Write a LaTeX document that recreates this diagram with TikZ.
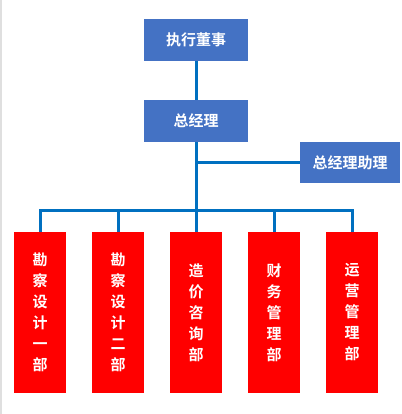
\documentclass[tikz,border=0pt]{standalone}
\usepackage{fontspec}
\newfontfamily\cjk{Noto Sans CJK SC}[BoldFont={* Bold}]
\usepackage{tikz}
\usetikzlibrary{positioning}
\definecolor{boxblue}{HTML}{4472C4}
\definecolor{lineblue}{HTML}{0070C0}
\tikzset{
    bluebox/.style={fill=boxblue, text=white, font=\cjk\bfseries\fontsize{15}{16}\selectfont, minimum width=104pt, minimum height=42pt, inner sep=0pt},
    deptbox/.style={fill=red, text=white, font=\cjk\bfseries\fontsize{15}{21}\selectfont, align=center, minimum width=52pt, minimum height=161pt, inner sep=0pt},
    link/.style={draw=lineblue, line width=3pt}
}
\begin{document}
\begin{tikzpicture}[x=1pt,y=-1pt]
        \useasboundingbox (0,0) rectangle (401,414);
        \fill[white] (0,0) rectangle (401,414);
        \draw[gray!25, line width=1.5pt] (0.75,0) -- (0.75,414);

        \node[bluebox] (dsz) at (196,40) {执行董事};
        \node[bluebox] (zjl) at (196,121) {总经理};
        \node[bluebox, minimum width=100pt, minimum height=41pt] (zl) at (350,162.5) {总经理助理};
        \coordinate (bus) at (196,210);

        \node[deptbox] (d1) at (40,312.5) {勘\\察\\设\\计\\一\\部};
        \node[deptbox] (d2) at (118,312.5) {勘\\察\\设\\计\\二\\部};
        \node[deptbox] (d3) at (196,312.5) {造\\价\\咨\\询\\部};
        \node[deptbox] (d4) at (274,312.5) {财\\务\\管\\理\\部};
        \node[deptbox] (d5) at (352,312.5) {运\\营\\管\\理\\部};

        \draw[link] (dsz.south) -- (zjl.north);
        \draw[link] (zjl.south) -- (d3.north);
        \draw[link] (zjl.south |- zl.west) -- (zl.west);
        \draw[link] (d1.north) -- (d1.north |- bus) -| (d5.north);
        \draw[link] (d2.north) -- (d2.north |- bus);
        \draw[link] (d4.north) -- (d4.north |- bus);
    \end{tikzpicture}
\end{document}
